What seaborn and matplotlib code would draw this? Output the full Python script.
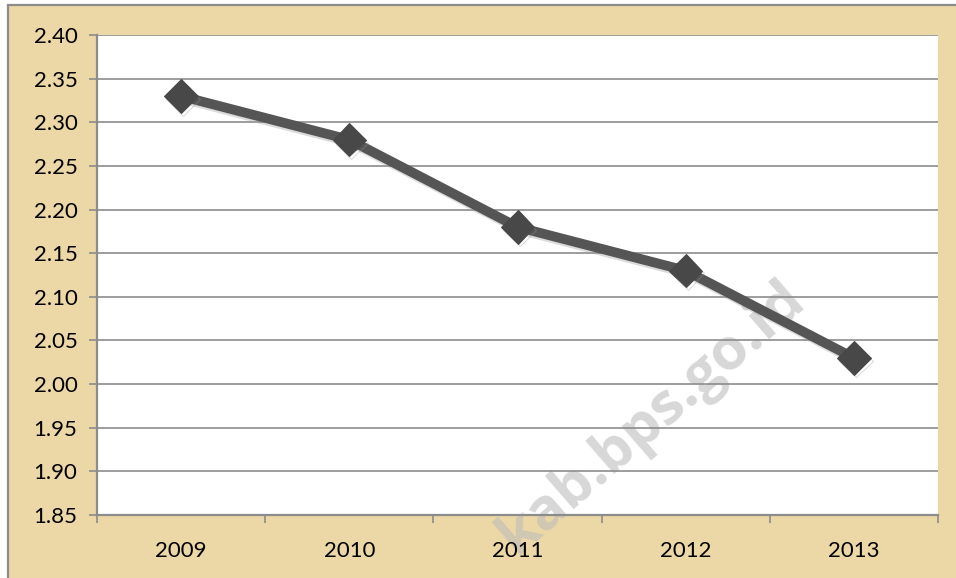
import numpy as np
import pandas as pd
import matplotlib
matplotlib.use("Agg")
import matplotlib.pyplot as plt
import matplotlib.patheffects as pe
from matplotlib.patches import Rectangle
import seaborn as sns

# Series
years = ["2009", "2010", "2011", "2012", "2013"]
values = [2.33, 2.28, 2.18, 2.13, 2.03]
y_ticks = [1.85, 1.90, 1.95, 2.00, 2.05, 2.10, 2.15, 2.20, 2.25, 2.30, 2.35, 2.40]

sns.set_theme(style="white")
plt.rcParams["font.family"] = ["Lato", "DejaVu Sans"]

W, H = 956, 578
fig = plt.figure(figsize=(W / 100, H / 100), dpi=100, facecolor="white")

# Chart area background with a thin frame on its outer edge
bg = Rectangle((8 / W, -0.2), 1.3, 1.2 - 5 / H, transform=fig.transFigure,
               facecolor="#ECD8A6", edgecolor="#8C8C8C", linewidth=1.6,
               zorder=-10)
fig.patches.append(bg)

ax = fig.add_axes([97 / W, 1 - 515 / H, (938 - 97) / W, (515 - 35) / H])
ax.set_facecolor("white")

df = pd.DataFrame({"pos": np.arange(len(years)), "value": values})
sns.lineplot(data=df, x="pos", y="value", ax=ax, color="#555555",
             linewidth=7, marker="D", markersize=17,
             markerfacecolor="#484848", markeredgecolor="#484848",
             zorder=5,
             path_effects=[pe.SimpleLineShadow(offset=(1.5, -2), shadow_color="#9A9A9A", alpha=0.35),
                           pe.Normal()])

ax.set_xlim(-0.5, len(years) - 0.5)
ax.set_ylim(y_ticks[0], y_ticks[-1])

# Y axis
ax.set_yticks(y_ticks)
ax.set_yticklabels([f"{v:.2f}" for v in y_ticks], fontsize=16, color="black")
ax.yaxis.grid(True, color="#8C8C8C", linewidth=1.2)
ax.set_axisbelow(True)

# X axis: ticks between categories, labels centred on each category
ax.set_xticks(np.arange(len(years) + 1) - 0.5)
ax.set_xticklabels([])
ax.set_xticks(np.arange(len(years)), minor=True)
ax.set_xticklabels(years, minor=True, fontsize=16, color="black")
ax.tick_params(axis="x", which="major", direction="out", length=6, width=1.2,
               color="#8C8C8C", bottom=True)
ax.tick_params(axis="x", which="minor", length=0, pad=19)
ax.tick_params(axis="y", direction="out", length=6, width=1.2,
               color="#8C8C8C", left=True, pad=8)

ax.set_xlabel("")
ax.set_ylabel("")
for side in ["top", "right"]:
    ax.spines[side].set_visible(False)
for side in ["left", "bottom"]:
    ax.spines[side].set_color("#8C8C8C")
    ax.spines[side].set_linewidth(1.6)

# Watermark, kept beneath the tick labels and the data line
ax.text(652 / W, 1 - 418 / H, "kab.bps.go.id", transform=fig.transFigure,
        rotation=41, ha="center", va="center", fontsize=42, fontweight="bold",
        color="#BDBDBD", alpha=0.6, zorder=0.4, clip_on=False,
        family=["Open Sans", "DejaVu Sans"])

fig.savefig("out.png", dpi=100, facecolor=fig.get_facecolor())
